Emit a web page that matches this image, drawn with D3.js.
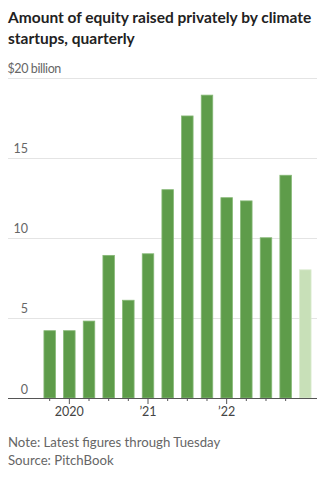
<!DOCTYPE html>
<html>
<head>
<meta charset="utf-8">
<script src="https://cdn.jsdelivr.net/npm/d3@7"></script>
<style>
  html, body { margin: 0; padding: 0; background: #fff; }
  svg { display: block; }
  .title { font-family: Lato, "Open Sans", sans-serif; font-weight: 700; font-size: 15.5px; fill: #222; }
  .lab { font-family: Lato, "Open Sans", sans-serif; font-size: 12.5px; fill: #666; }
  .unit { font-family: Lato, "Open Sans", sans-serif; font-size: 12.5px; fill: #666; letter-spacing: -0.4px; }
  .note { font-family: Lato, "Open Sans", sans-serif; font-size: 13.2px; fill: #666; }
  .xlab { font-family: Lato, "Open Sans", sans-serif; font-size: 12.5px; fill: #444; }
</style>
</head>
<body>
<svg id="chart" width="325" height="480"></svg>
<script>
// Quarterly climate-startup equity raised, $ billions (last quarter is partial)
const quarters = ["Q4 2019", "Q1 2020", "Q2 2020", "Q3 2020", "Q4 2020",
                  "Q1 2021", "Q2 2021", "Q3 2021", "Q4 2021",
                  "Q1 2022", "Q2 2022", "Q3 2022", "Q4 2022", "Q1 2023"];
const values = [4.2, 4.2, 4.8, 8.9, 6.1, 9.0, 13.0, 17.6, 18.9, 12.5, 12.3, 10.0, 13.9, 8.0];
const partialQuarter = "Q1 2023";
const yTicks = [0, 5, 10, 15, 20];
const yearLabels = { "Q1 2020": "2020", "Q1 2021": "\u201921", "Q1 2022": "\u201922" };
const titleLines = ["Amount of equity raised privately by climate", "startups, quarterly"];
const notes = ["Note: Latest figures through Tuesday", "Source: PitchBook"];

const svg = d3.select("#chart");
const left = 8, right = 317, labelRight = 28;

const y = d3.scaleLinear().domain([0, 20]).range([398, 77.5]);
const x = d3.scaleBand().domain(quarters).range([40, 315])
  .paddingInner(0.415).paddingOuter(0.2);

// Title
svg.append("text").attr("class", "title")
  .selectAll("tspan").data(titleLines).join("tspan")
  .attr("x", left).attr("y", (d, i) => 23 + i * 20.5).text(d => d);

// Gridlines
svg.append("g").selectAll("line").data(yTicks.filter(t => t > 0)).join("line")
  .attr("x1", left).attr("x2", right)
  .attr("y1", d => Math.round(y(d)) + 0.5).attr("y2", d => Math.round(y(d)) + 0.5)
  .attr("stroke", "#e4e4e4").attr("stroke-width", 1);

// Y labels (right edge of the number aligned; top label carries the unit)
const yl = svg.append("g");
yTicks.forEach(t => {
  if (t === 20) {
    const probe = yl.append("text").attr("class", "unit").text("$20");
    const w = probe.node().getComputedTextLength();
    probe.remove();
    yl.append("text").attr("class", "unit")
      .attr("x", labelRight - w).attr("y", y(t) - 5).text("$20 billion");
  } else {
    yl.append("text").attr("class", "lab").attr("text-anchor", "end")
      .attr("x", labelRight).attr("y", y(t) - 4.5).text(t);
  }
});

// Bars
svg.append("g").selectAll("rect").data(quarters).join("rect")
  .attr("x", d => x(d))
  .attr("width", x.bandwidth())
  .attr("y", (d, i) => y(values[i]))
  .attr("height", (d, i) => y(0) - y(values[i]))
  .attr("fill", d => d === partialQuarter ? "#c8e0b8" : "#5e9c4a")
  .attr("stroke", d => d === partialQuarter ? "#dcecd2" : "#86b876")
  .attr("stroke-width", 0.8);

// X axis
const xAxis = d3.axisBottom(x)
  .tickValues(quarters.filter(q => q !== partialQuarter))
  .tickSize(3).tickPadding(6)
  .tickFormat(d => yearLabels[d] || "");
const gx = svg.append("g").attr("transform", `translate(0,${y(0)})`).call(xAxis);
gx.select(".domain").remove();
gx.selectAll(".tick line").attr("stroke", "#555")
  .attr("y2", d => yearLabels[d] ? 6 : 3);
gx.selectAll(".tick text").attr("class", "xlab").attr("font-family", null).attr("font-size", null)
  .attr("fill", null).attr("dy", "0.71em").attr("y", 9);

svg.append("line").attr("x1", left).attr("x2", right)
  .attr("y1", y(0) + 0.5).attr("y2", y(0) + 0.5)
  .attr("stroke", "#555").attr("stroke-width", 1);

// Notes
svg.append("text").attr("class", "note")
  .selectAll("tspan").data(notes).join("tspan")
  .attr("x", left).attr("y", (d, i) => 447 + i * 17.5).text(d => d);
</script>
</body>
</html>
